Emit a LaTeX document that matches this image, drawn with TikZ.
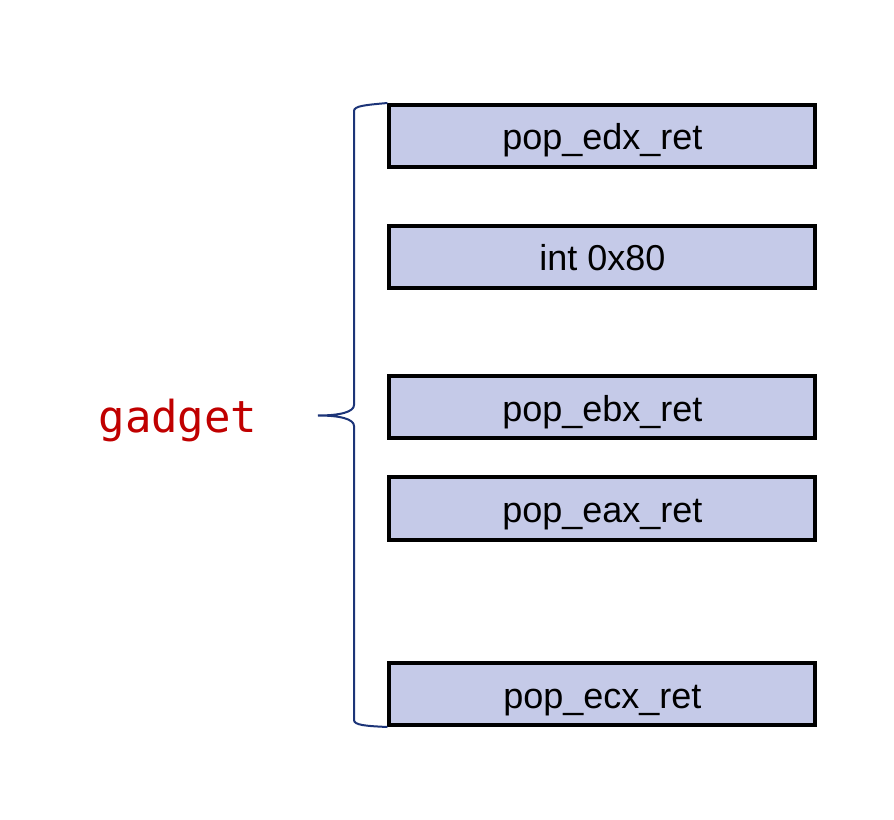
\documentclass[tikz,border=0pt]{standalone}
\usepackage{fontspec}
\setmainfont{Liberation Sans}
\newfontfamily\monof{DejaVu Sans Mono}
\definecolor{boxfill}{RGB}{197,202,232}
\definecolor{bracecol}{RGB}{28,52,120}
\definecolor{gadred}{RGB}{192,0,0}
\tikzset{
  stackbox/.style={draw=black, fill=boxfill, line width=3pt, minimum width=319.4pt, minimum height=46.5pt, inner sep=0pt, text height=21pt, text depth=0pt, font=\fontsize{27}{32}\selectfont},
  bracestyle/.style={draw=bracecol, line width=1.5pt},
  gadlabel/.style={text=gadred, font=\monof\fontsize{33}{38}\selectfont, anchor=base, inner sep=0pt}
}
\begin{document}
\begin{tikzpicture}[x=0.75pt,y=-0.75pt]
\useasboundingbox (0,0) rectangle (894,820);
\node[stackbox] (b1) at (602.4,136) {pop\_edx\_ret};
\node[stackbox] (b2) at (602.4,257) {int 0x80};
\node[stackbox] (b3) at (602.4,407.5) {pop\_ebx\_ret};
\node[stackbox] (b4) at (602.4,508.5) {pop\_eax\_ret};
\node[stackbox] (b5) at (602.4,694) {pop\_ecx\_ret};
\node[gadlabel] (g) at (178,432) {gadget};
\coordinate (tip) at (318,415.5);
\draw[bracestyle] (b1.north west) .. controls (365,105) and (354,106) .. (354,111) -- (354,405)
  .. controls (354,412) and (340,415.5) .. (tip)
  .. controls (340,415.5) and (354,419) .. (354,426) -- (354,720)
  .. controls (354,725) and (365,726) .. (b5.south west);
\end{tikzpicture}
\end{document}
